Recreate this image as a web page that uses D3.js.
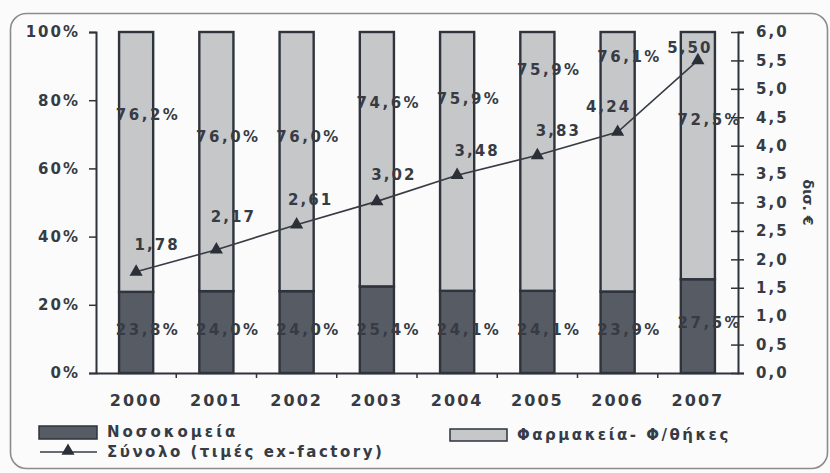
<!DOCTYPE html>
<html>
<head>
<meta charset="utf-8">
<script src="https://cdn.jsdelivr.net/npm/d3@7"></script>
<style>
  html, body { margin: 0; padding: 0; background: #fbfbfb; }
  svg { display: block; }
  text { font-family: "DejaVu Sans", "Liberation Sans", sans-serif; font-weight: bold; fill: #363b44; }
</style>
</head>
<body>
<svg id="chart" width="830" height="473"></svg>
<script>
// Years on the category axis
const years = ["2000", "2001", "2002", "2003", "2004", "2005", "2006", "2007"];
// Share of sales through hospitals (%)
const hospitals = [23.8, 24.0, 24.0, 25.4, 24.1, 24.1, 23.9, 27.5];
// Share of sales through pharmacies / wholesalers (%)
const pharmacies = [76.2, 76.0, 76.0, 74.6, 75.9, 75.9, 76.1, 72.5];
// Total market, ex-factory prices (billion €)
const total = [1.78, 2.17, 2.61, 3.02, 3.48, 3.83, 4.24, 5.50];
// Tick labels
const pctTicks = [0, 20, 40, 60, 80, 100];
const eurTicks = [0, 0.5, 1, 1.5, 2, 2.5, 3, 3.5, 4, 4.5, 5, 5.5, 6];
// Series names
const seriesNames = ["Νοσοκομεία", "Φαρμακεία- Φ/θήκες", "Σύνολο (τιμές ex-factory)"];
const rightTitle = "δισ. €";

// Label placement (layout only): heights in % units for the percentage labels,
// offsets in px for the total-value labels
const pharmLabelAt = [75.7, 69.2, 69.2, 79.2, 80.6, 88.9, 92.7, 74.2];
const hospLabelAt = [12.6, 12.6, 12.6, 12.6, 12.6, 12.6, 12.6, 14.7];
const totalLabelShift = [[21, -27], [17, -33], [14, -25], [17, -27], [20, -25], [21, -25], [-9, -25], [-8, -13]];

const fmt1 = v => d3.format(".1f")(v).replace(".", ",");
const fmt2 = v => d3.format(".2f")(v).replace(".", ",");

const svg = d3.select("#chart");
const L = 96, R = 738, T = 32, B = 373;
const ink = "#2e333c";

// Outer rounded frame
svg.append("rect")
  .attr("x", 10.5).attr("y", 13.5).attr("width", 817).attr("height", 455)
  .attr("rx", 16).attr("ry", 16)
  .attr("fill", "none").attr("stroke", "#8c8c8c").attr("stroke-width", 1.6);

const x = d3.scaleBand().domain(years).range([L, R]).paddingInner(0.575).paddingOuter(0.2875);
const yPct = d3.scaleLinear().domain([0, 100]).range([B, T]);
const yEur = d3.scaleLinear().domain([0, 6]).range([B, T]);

// Stacked bars
const rows = years.map((yr, i) => ({ year: yr, hospitals: hospitals[i], pharmacies: pharmacies[i] }));
const stack = d3.stack().keys(["hospitals", "pharmacies"])(rows);
const fills = { hospitals: "#575c64", pharmacies: "#c6c7c9" };

svg.append("g").selectAll("g").data(stack).join("g")
  .attr("fill", d => fills[d.key])
  .selectAll("rect").data(d => d).join("rect")
  .attr("x", d => x(d.data.year))
  .attr("width", x.bandwidth())
  .attr("y", d => yPct(d[1]))
  .attr("height", d => yPct(d[0]) - yPct(d[1]))
  .attr("stroke", ink).attr("stroke-width", 2.4);

// Left percent axis
const leftAxis = svg.append("g").attr("transform", `translate(${L},0)`)
  .call(d3.axisLeft(yPct).tickValues(pctTicks).tickSize(7).tickPadding(9).tickFormat(d => d + "%"));
leftAxis.select(".domain").attr("stroke", ink).attr("stroke-width", 2);
leftAxis.selectAll(".tick line").attr("stroke", ink).attr("stroke-width", 1.5);
leftAxis.selectAll("text").attr("font-size", 15).attr("letter-spacing", 2).attr("fill", "#363b44");

// Right axis (billion €)
const rightAxis = svg.append("g").attr("transform", `translate(${R},0)`)
  .call(d3.axisRight(yEur).tickValues(eurTicks).tickSize(6).tickPadding(12).tickFormat(fmt1));
rightAxis.select(".domain").attr("stroke", ink).attr("stroke-width", 2);
rightAxis.selectAll(".tick line").attr("x1", -7).attr("stroke", ink).attr("stroke-width", 1.5);
rightAxis.selectAll("text").attr("font-size", 15).attr("letter-spacing", 2).attr("fill", "#363b44");

svg.append("text")
  .attr("transform", `translate(803,${(T + B) / 2}) rotate(90)`)
  .attr("text-anchor", "middle")
  .attr("font-size", 14)
  .text(rightTitle);

// Category axis
const xAxis = svg.append("g").attr("transform", `translate(0,${B})`)
  .call(d3.axisBottom(x).tickSize(0).tickPadding(22));
xAxis.select(".domain").attr("stroke", ink).attr("stroke-width", 2);
xAxis.selectAll("text").attr("font-size", 16).attr("letter-spacing", 2).attr("fill", "#363b44");
const step = x.step();
svg.append("g").selectAll("line").data(years.slice(1)).join("line")
  .attr("x1", d => x(d) - (step - x.bandwidth()) / 2)
  .attr("x2", d => x(d) - (step - x.bandwidth()) / 2)
  .attr("y1", B).attr("y2", B + 5)
  .attr("stroke", ink).attr("stroke-width", 1.5);

// Percentage labels
const cx = yr => x(yr) + x.bandwidth() / 2;
svg.append("g").selectAll("text").data(years).join("text")
  .attr("x", d => cx(d) + 12)
  .attr("y", (d, i) => yPct(pharmLabelAt[i]))
  .attr("dy", "0.36em")
  .attr("text-anchor", "middle")
  .attr("font-size", 15).attr("letter-spacing", 2.5)
  .text((d, i) => fmt1(pharmacies[i]) + "%");

svg.append("g").selectAll("text").data(years).join("text")
  .attr("x", d => cx(d) + 12)
  .attr("y", (d, i) => yPct(hospLabelAt[i]))
  .attr("dy", "0.36em")
  .attr("text-anchor", "middle")
  .attr("font-size", 15).attr("letter-spacing", 2.5)
  .text((d, i) => fmt1(hospitals[i]) + "%");

// Total line with triangle markers
const line = d3.line().x((d, i) => cx(years[i])).y(d => yEur(d));
svg.append("path").datum(total)
  .attr("d", line).attr("fill", "none")
  .attr("stroke", "#363b44").attr("stroke-width", 1.6);

const tri = d3.symbol().type(d3.symbolTriangle).size(75);
svg.append("g").selectAll("path").data(total).join("path")
  .attr("d", tri)
  .attr("transform", (d, i) => `translate(${cx(years[i])},${yEur(d)})`)
  .attr("fill", "#2a2f38");

svg.append("g").selectAll("text").data(total).join("text")
  .attr("x", (d, i) => cx(years[i]) + totalLabelShift[i][0])
  .attr("y", (d, i) => yEur(d) + totalLabelShift[i][1])
  .attr("dy", "0.36em")
  .attr("text-anchor", "middle")
  .attr("font-size", 15).attr("letter-spacing", 2)
  .text(d => fmt2(d));

// Legend
const lg = svg.append("g");
lg.append("rect").attr("x", 39).attr("y", 426).attr("width", 58).attr("height", 13)
  .attr("fill", fills.hospitals).attr("stroke", ink).attr("stroke-width", 1.5);
lg.append("text").attr("x", 107).attr("y", 432).attr("dy", "0.35em")
  .attr("font-size", 15).attr("letter-spacing", 3).text(seriesNames[0]);

lg.append("rect").attr("x", 450).attr("y", 429).attr("width", 57).attr("height", 12)
  .attr("fill", fills.pharmacies).attr("stroke", ink).attr("stroke-width", 1.5);
lg.append("text").attr("x", 517).attr("y", 435).attr("dy", "0.35em")
  .attr("font-size", 15).attr("letter-spacing", 2.5).text(seriesNames[1]);

lg.append("line").attr("x1", 40).attr("x2", 97).attr("y1", 452).attr("y2", 452)
  .attr("stroke", "#363b44").attr("stroke-width", 1.4);
lg.append("path").attr("d", tri).attr("transform", "translate(68,451)").attr("fill", "#2a2f38");
lg.append("text").attr("x", 107).attr("y", 452).attr("dy", "0.35em")
  .attr("font-size", 15).attr("letter-spacing", 2.5).text(seriesNames[2]);
</script>
</body>
</html>
